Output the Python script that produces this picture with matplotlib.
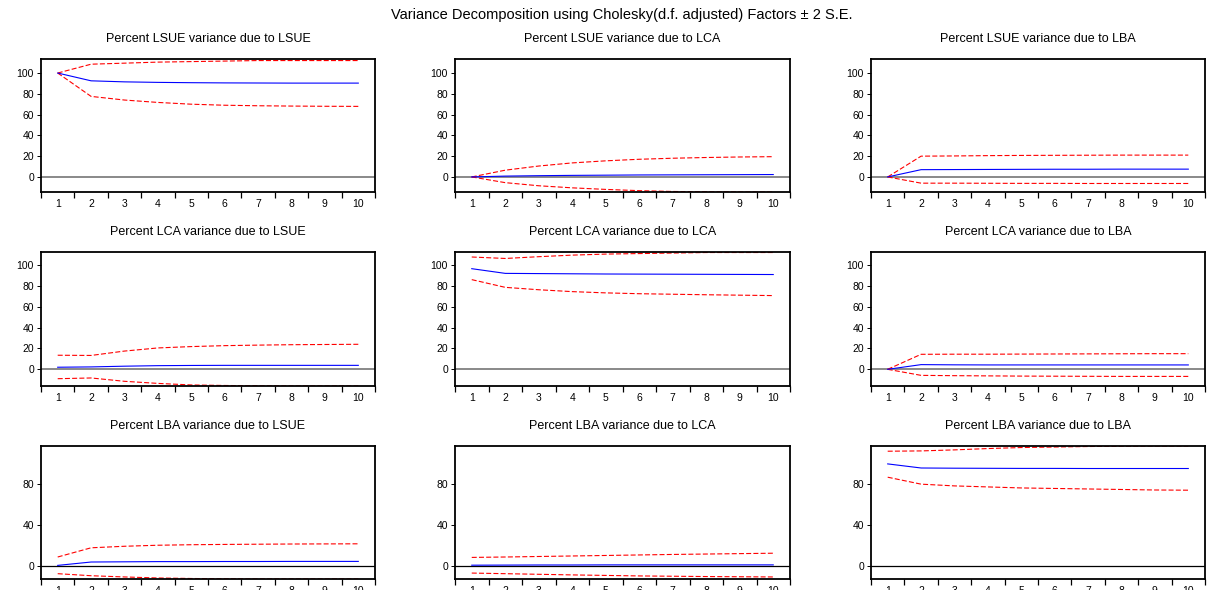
import numpy as np
import matplotlib
matplotlib.use("Agg")
import matplotlib.pyplot as plt

plt.rcParams['font.family'] = ['Liberation Sans', 'DejaVu Sans']

periods = list(range(1, 11))
variables = ["LSUE", "LCA", "LBA"]

# row = variance of, col = due to ; each entry: (mean, upper, lower)
lsue_lsue = [100, 92.5, 91.5, 91.0, 90.7, 90.5, 90.4, 90.3, 90.3, 90.3]
lsue_lsue_up = [100, 108.5, 109.5, 110.5, 111.0, 111.5, 112.0, 112.0, 112.0, 112.0]
lsue_lsue_lo = [100, 77.5, 74.0, 71.7, 70.0, 69.0, 68.5, 68.2, 68.0, 67.9]

lsue_lca = [0, 0.8, 1.2, 1.5, 1.7, 1.9, 2.0, 2.1, 2.2, 2.3]
lsue_lca_up = [0, 6.5, 10.5, 13.5, 15.5, 17.0, 18.0, 18.7, 19.2, 19.5]
lsue_lca_lo = [0, -5.5, -8.5, -10.5, -12.0, -13.2, -14.0, -14.3, -14.5, -14.6]

lsue_lba = [0, 7.0, 7.1, 7.2, 7.3, 7.4, 7.4, 7.5, 7.5, 7.5]
lsue_lba_up = [0, 20.0, 20.2, 20.5, 20.7, 20.8, 20.9, 21.0, 21.0, 21.0]
lsue_lba_lo = [0, -6.0, -6.0, -6.1, -6.2, -6.2, -6.3, -6.3, -6.3, -6.3]

lca_lsue = [2.0, 2.3, 3.0, 3.5, 3.7, 3.8, 3.8, 3.8, 3.8, 3.8]
lca_lsue_up = [13.5, 13.3, 17.5, 20.5, 21.8, 22.7, 23.2, 23.6, 23.8, 24.0]
lca_lsue_lo = [-9.0, -8.3, -11.5, -13.5, -15.0, -15.5, -15.8, -16.0, -16.0, -16.0]

lca_lca = [96.5, 92.0, 91.8, 91.6, 91.4, 91.3, 91.2, 91.1, 91.0, 90.9]
lca_lca_up = [107.7, 106.3, 108.0, 109.5, 110.5, 111.0, 111.5, 112.0, 112.0, 112.0]
lca_lca_lo = [86.0, 78.6, 76.3, 74.5, 73.3, 72.5, 72.0, 71.5, 71.1, 70.7]

lca_lba = [0, 4.5, 4.3, 4.2, 4.2, 4.2, 4.2, 4.2, 4.2, 4.2]
lca_lba_up = [0, 14.4, 14.5, 14.5, 14.6, 14.7, 14.8, 14.9, 15.0, 15.0]
lca_lba_lo = [0, -5.8, -6.1, -6.3, -6.5, -6.6, -6.7, -6.8, -6.8, -6.8]

lba_lsue = [0.3, 3.6, 3.8, 4.0, 4.0, 4.1, 4.1, 4.2, 4.2, 4.2]
lba_lsue_up = [8.5, 17.5, 19.0, 20.0, 20.5, 20.8, 21.0, 21.2, 21.3, 21.4]
lba_lsue_lo = [-7.8, -9.8, -11.0, -12.0, -12.5, -12.8, -13.0, -13.0, -13.0, -13.0]

lba_lca = [0.5, 0.6, 0.7, 0.7, 0.8, 0.8, 0.8, 0.8, 0.8, 0.8]
lba_lca_up = [8.1, 8.5, 9.0, 9.5, 10.0, 10.5, 11.0, 11.4, 11.8, 12.2]
lba_lca_lo = [-7.2, -7.8, -8.4, -9.0, -9.5, -10.0, -10.3, -10.6, -10.8, -11.0]

lba_lba = [99.5, 95.5, 95.3, 95.2, 95.1, 95.1, 95.0, 95.0, 95.0, 95.0]
lba_lba_up = [111.9, 112.2, 113.2, 114.5, 115.5, 116.0, 116.5, 116.8, 117.0, 117.0]
lba_lba_lo = [86.5, 79.7, 78.0, 77.0, 76.0, 75.5, 75.0, 74.5, 74.0, 73.8]

panels = [
    [(lsue_lsue, lsue_lsue_up, lsue_lsue_lo),
     (lsue_lca, lsue_lca_up, lsue_lca_lo),
     (lsue_lba, lsue_lba_up, lsue_lba_lo)],
    [(lca_lsue, lca_lsue_up, lca_lsue_lo),
     (lca_lca, lca_lca_up, lca_lca_lo),
     (lca_lba, lca_lba_up, lca_lba_lo)],
    [(lba_lsue, lba_lsue_up, lba_lsue_lo),
     (lba_lca, lba_lca_up, lba_lca_lo),
     (lba_lba, lba_lba_up, lba_lba_lo)],
]

row_yticks = [[0, 20, 40, 60, 80, 100], [0, 20, 40, 60, 80, 100], [0, 40, 80]]
row_ylims = [(-14.5, 113.5), (-16, 112.5), (-13, 117)]

W, H = 1208, 590
fig = plt.figure(figsize=(W / 100, H / 100), dpi=100)

col_left = [41, 455, 871]
col_right = [375, 790, 1205]
row_top = [59, 252, 446]
row_bot = [192, 386, 579]

fig.text(622 / W, 1 - 15 / H, "Variance Decomposition using Cholesky(d.f. adjusted) Factors \u00b1 2 S.E.",
         ha="center", va="center", fontsize=10.5)

for r in range(3):
    for c in range(3):
        x0 = col_left[c] / W
        w = (col_right[c] - col_left[c]) / W
        y0 = 1 - row_bot[r] / H
        h = (row_bot[r] - row_top[r]) / H
        ax = fig.add_axes([x0, y0, w, h])
        mean, up, lo = panels[r][c]
        zc = "#808080" if r < 2 else "black"
        zw = 1.3 if r < 2 else 0.9
        ax.axhline(0, color=zc, lw=zw, zorder=1)
        ax.plot(periods, up, color="#ff0000", lw=0.8, dashes=(4.5, 2), zorder=2)
        ax.plot(periods, lo, color="#ff0000", lw=0.8, dashes=(4.5, 2), zorder=2)
        ax.plot(periods, mean, color="#0000ff", lw=0.8, zorder=3)
        ax.set_xlim(0.5, 10.5)
        ax.set_ylim(*row_ylims[r])
        ax.set_xticks(periods)
        ax.set_xticks(np.arange(0.5, 11, 1), minor=True)
        ax.tick_params(axis="x", which="major", length=0, pad=5, labelsize=7.5)
        ax.tick_params(axis="x", which="minor", length=4, width=0.9, direction="out")
        ax.set_yticks(row_yticks[r])
        ax.tick_params(axis="y", length=3, width=0.7, pad=2, labelsize=7.5)
        for s in ax.spines.values():
            s.set_linewidth(1.3)
        ax.set_title("Percent %s variance due to %s" % (variables[r], variables[c]),
                     fontsize=9, pad=12)

fig.savefig("out.png", dpi=100)
